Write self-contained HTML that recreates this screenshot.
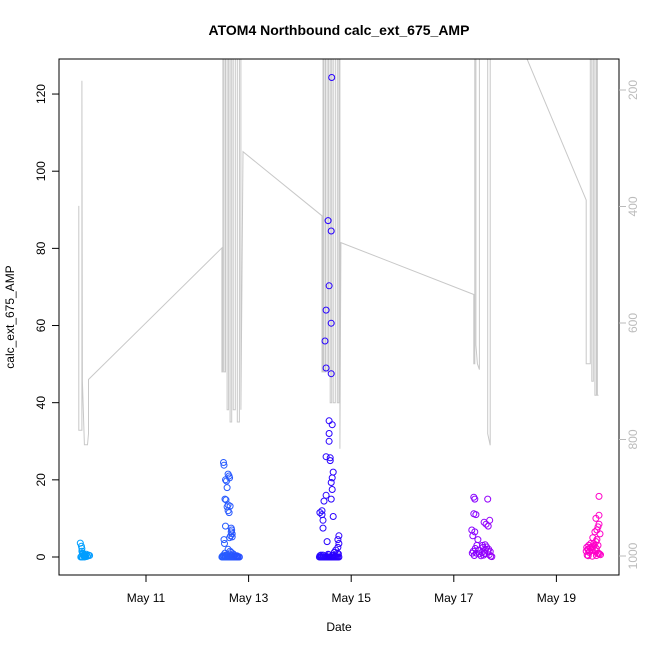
<!DOCTYPE html>
<html><head><meta charset="utf-8"><style>
body{margin:0;background:#fff}
svg{display:block;font-family:"Liberation Sans",sans-serif}
</style></head><body>
<svg id="chart" width="650" height="650" viewBox="0 0 650 650">
<rect width="650" height="650" fill="#fff"/>
<text x="339" y="35" text-anchor="middle" font-size="14" font-weight="bold">ATOM4 Northbound calc_ext_675_AMP</text>
<text x="339" y="631" text-anchor="middle" font-size="12">Date</text>
<text transform="translate(14,317) rotate(-90)" text-anchor="middle" font-size="12">calc_ext_675_AMP</text>
<defs><clipPath id="pc"><rect x="59" y="59" width="560" height="516"/></clipPath></defs>
<g id="depth" clip-path="url(#pc)"></g>
<g id="pts" clip-path="url(#pc)"></g>
<rect x="59" y="59" width="560" height="516" fill="none" stroke="#000" stroke-width="1"/>
<g id="axes"></g>
</svg>
<script>
const xTickDays=[11,13,15,17,19];
const xTickLabels=["May 11","May 13","May 15","May 17","May 19"];
const yTicks=[0,20,40,60,80,100,120];
const depthTicks=[200,400,600,800,1000];
// gray depth trace (day of May, depth)
const lineT=[9.69,9.69,9.75,9.75,9.76,9.80,9.86,9.88,9.88,
12.48,12.48,12.50,12.50,12.52,12.52,12.55,12.55,12.58,12.58,12.61,12.61,12.64,12.64,12.67,12.67,12.70,12.70,12.74,12.74,12.78,12.78,12.82,12.82,12.85,12.85,12.89,
14.43,14.43,14.45,14.45,14.47,14.47,14.50,14.50,14.53,14.53,14.56,14.56,14.59,14.59,14.62,14.62,14.65,14.65,14.69,14.69,14.73,14.73,14.76,14.76,14.78,14.78,14.80,
17.39,17.39,17.41,17.41,17.43,17.43,17.46,17.50,17.50,17.66,17.66,17.71,17.71,17.73,
19.58,19.58,19.66,19.66,19.69,19.69,19.72,19.72,19.75,19.75,19.78,19.78,19.80,19.80,19.82];
const lineD=[399,784,784,184,700,809,809,790,697,
471,684,684,0,0,684,684,0,0,749,749,0,0,770,770,0,0,749,749,0,0,770,770,0,0,749,306,
416,684,684,0,0,684,684,0,0,684,684,0,0,737,737,0,0,737,737,0,0,737,737,0,0,816,462,
551,670,670,0,0,638,670,680,0,0,790,810,0,0,
389,670,670,0,0,700,700,0,0,724,724,0,0,724,724];
// scatter points (day of May, value)
const ptT=[9.72,9.74,9.75,9.75,9.76,9.77,9.78,9.79,9.80,9.82,9.84,9.86,9.74,9.76,9.78,9.80,9.83,9.88,9.90,9.73,9.77,9.81,
12.51,12.52,12.60,12.62,12.63,12.55,12.57,12.58,12.54,12.56,12.60,12.64,12.58,12.60,12.62,12.55,12.66,12.67,12.66,12.68,12.65,12.63,12.68,12.52,12.53,12.60,12.64,12.66,12.70,12.54,
12.48,12.50,12.52,12.54,12.56,12.58,12.60,12.62,12.64,12.66,12.68,12.70,12.72,12.74,12.76,12.78,12.80,12.82,12.49,12.55,12.61,12.67,12.73,12.79,12.51,12.59,12.69,12.77,
14.62,14.55,14.61,14.57,14.51,14.61,14.49,14.51,14.61,14.57,14.63,14.57,14.57,14.51,14.59,14.59,14.65,14.63,14.61,14.63,14.51,14.61,14.47,14.43,14.39,14.43,14.65,14.45,14.45,14.53,14.76,14.74,14.76,14.74,14.70,14.67,
14.38,14.40,14.42,14.44,14.46,14.48,14.50,14.52,14.54,14.56,14.58,14.60,14.62,14.64,14.66,14.68,14.70,14.72,14.74,14.76,14.39,14.45,14.51,14.57,14.63,14.69,14.75,14.41,14.55,14.73,
17.39,17.41,17.66,17.39,17.43,17.70,17.59,17.63,17.67,17.35,17.41,17.37,17.47,17.45,17.57,17.68,17.61,17.38,17.44,17.50,17.55,17.58,17.62,17.66,17.69,17.72,17.36,17.42,17.49,17.56,17.64,17.71,17.40,17.60,17.53,17.74,
19.83,19.83,19.77,19.83,19.81,19.79,19.75,19.85,19.71,19.79,19.67,19.63,19.59,19.61,19.65,19.69,19.73,19.77,19.81,19.58,19.62,19.66,19.70,19.74,19.78,19.82,19.84,19.60,19.64,19.68,19.72,19.76,19.80,19.86,19.62,19.70,19.78];
const ptV=[3.6,2.8,2.2,1.5,1.0,0.8,0.5,0.3,0.6,0.4,0.7,0.2,0.1,0.0,0.3,0.0,0.1,0.5,0.4,0.0,0.9,0.2,
24.5,23.8,21.5,21,20.5,20,19.7,18,15,14.8,13.5,13.2,13,12,11.5,8,7.5,7,6.5,6,5.5,5,5.2,4.5,3.5,2,1.5,1.2,0.8,1.0,
0,0,0,0,0,0,0,0,0,0,0,0,0,0,0,0,0,0,0.2,0.3,0.2,0.4,0.3,0.2,0.5,0.6,0.4,0.3,
124.3,87.2,84.5,70.3,64,60.6,56,49,47.5,35.3,34.3,32,30,26,25.7,25,22,20.5,19.3,17.5,16,15,14.5,12,11.5,11,10.5,9.5,7.5,4,5.5,4.5,3.5,2.5,1.8,1.2,
0,0,0,0,0,0,0,0,0,0,0,0,0,0,0,0,0,0,0,0,0.3,0.5,0.2,0.6,0.4,0.3,0.8,0.5,0.7,1.0,
15.5,15,15,11.2,11,9.5,9,8.5,8,7,6.5,5.5,4.5,3,2.5,2,3.2,1.5,1.0,0.8,1.2,0.5,2.0,1.5,0.6,0.2,1.0,2.2,1.8,3.0,2.6,1.4,0.4,0.9,0.3,0.1,
15.7,10.8,10,8.5,7.8,7,6.5,6,5,4.5,3.5,3,2.5,2,1.5,2.5,3.5,4,3,1.5,2,2.5,1.8,3,2.2,1,0.8,0.5,1.2,2.0,2.8,1.6,0.9,0.6,0.3,0.2,0.4];

const NS='http://www.w3.org/2000/svg';
const xS=t=>146+(t-11)*51.3;
const yS=v=>557-v*3.858;
const dS=d=>90+(d-200)*0.5825;
const axes=document.getElementById('axes');
function mk(tag,attrs,parent){const e=document.createElementNS(NS,tag);for(const k in attrs)e.setAttribute(k,attrs[k]);parent.appendChild(e);return e;}

let d='';
const n=Math.min(lineT.length,lineD.length);
for(let i=0;i<n;i++){d+=(i?'L':'M')+xS(lineT[i]).toFixed(1)+','+dS(lineD[i]).toFixed(1);}
const pl=mk('path',{d:d,fill:'none',stroke:'#c8c8c8','stroke-width':1},document.getElementById('depth'));



const stops=[[9.7,[0,160,255]],[12.6,[40,90,255]],[14.6,[40,0,255]],[17.5,[140,0,255]],[19.7,[255,0,200]]];
function col(t){if(t<=stops[0][0])return stops[0][1];for(let i=1;i<stops.length;i++){if(t<=stops[i][0]){const a=stops[i-1],b=stops[i],f=(t-a[0])/(b[0]-a[0]);return a[1].map((c,j)=>Math.round(c+(b[1][j]-c)*f));}}return stops[stops.length-1][1];}
const pg=document.getElementById('pts');
for(let i=0;i<ptT.length;i++){
  const c=col(ptT[i]);
  const e=mk('circle',{cx:xS(ptT[i]).toFixed(1),cy:yS(ptV[i]).toFixed(1),r:3,fill:'none',stroke:'rgb('+c.join(',')+')','stroke-width':1},pg);
  
  
}

for(let i=0;i<xTickDays.length;i++){
  const x=xS(xTickDays[i]);
  const tk=mk('line',{x1:x,x2:x,y1:575,y2:582,stroke:'#000'},axes);
  
  
  const t=mk('text',{x:x,y:602,'text-anchor':'middle','font-size':12},axes);
  t.textContent=xTickLabels[i];
  
  
}
for(const v of yTicks){
  const y=yS(v);
  const tk=mk('line',{x1:52,x2:59,y1:y,y2:y,stroke:'#000'},axes);
  
  
  const t=mk('text',{transform:'translate(45,'+y+') rotate(-90)','text-anchor':'middle','font-size':12},axes);
  t.textContent=v;
  
  
}
for(const v of depthTicks){
  const y=dS(v);
  const tk=mk('line',{x1:619,x2:626,y1:y,y2:y,stroke:'#bbb'},axes);
  
  
  const t=mk('text',{transform:'translate(637,'+y+') rotate(-90)','text-anchor':'middle','font-size':12,fill:'#bbb'},axes);
  t.textContent=v;
  
  
}
</script>
</body></html>
